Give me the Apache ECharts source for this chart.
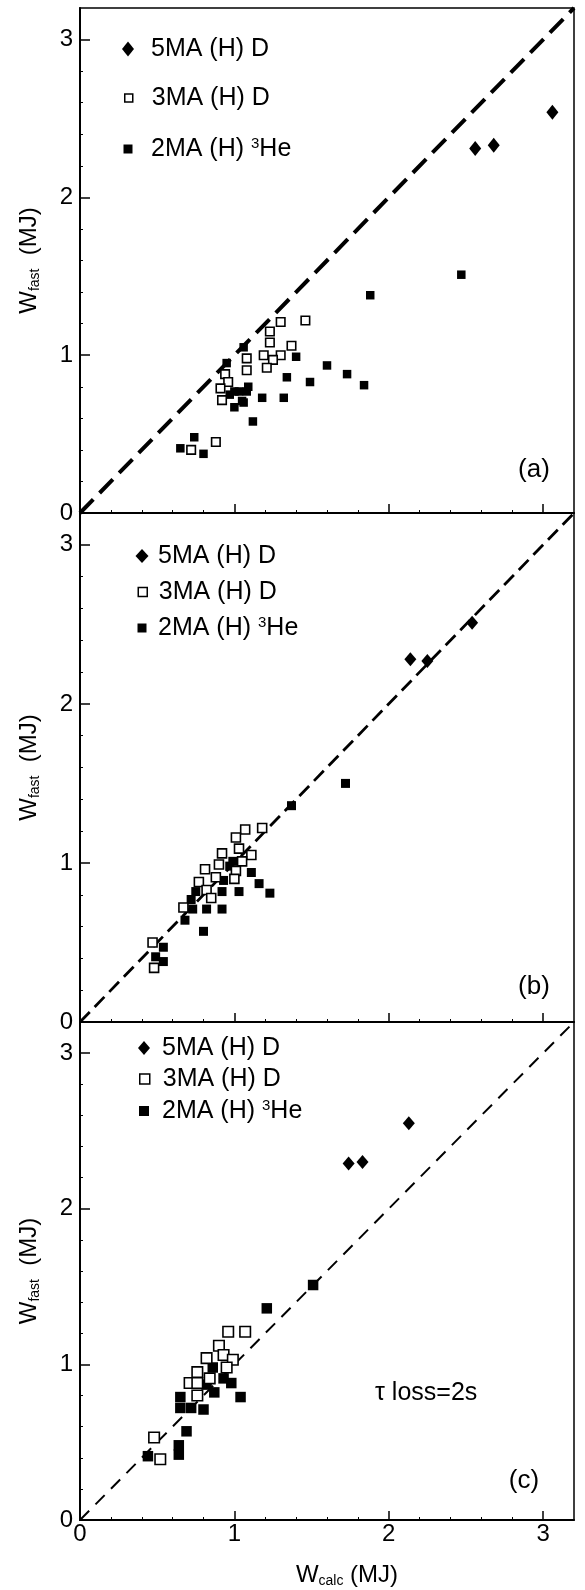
<!DOCTYPE html>
<html>
<head>
<meta charset="utf-8">
<script src="https://cdn.jsdelivr.net/npm/echarts@6/dist/echarts.min.js"></script>
<style>
  html, body { margin: 0; padding: 0; background: #fff; }
  #chart { width: 585px; height: 1590px; }
</style>
</head>
<body>
<div id="chart"></div>
<script>
// Fast-ion stored energy: measured vs calculated, three model variants
const seriesNames = ['5MA (H) D', '3MA (H) D', '2MA (H) ³He'];
const panelTags = ['(a)', '(b)', '(c)'];
const axisTicks = [0, 1, 2, 3];
const axisRange = [0, 3.2];
const lossNote = 'τ loss=2s';

// panel (a)
const a5MA = [[2.56, 2.31], [2.68, 2.33], [3.06, 2.54]];
const a3MA = [[1.30, 1.21], [1.46, 1.22], [1.23, 1.15], [1.23, 1.08], [1.37, 1.06], [1.19, 1.00],
  [1.30, 1.00], [1.25, 0.97], [1.21, 0.92], [1.08, 0.98], [1.08, 0.905], [0.94, 0.88],
  [0.96, 0.83], [0.91, 0.79], [0.92, 0.715], [0.88, 0.45], [0.72, 0.40]];
const a2MA = [[1.88, 1.38], [2.47, 1.51], [1.06, 1.05], [0.95, 0.95], [1.40, 0.99], [1.60, 0.935],
  [1.73, 0.88], [1.84, 0.81], [1.49, 0.83], [1.34, 0.86], [1.18, 0.73], [1.32, 0.73],
  [1.09, 0.80], [1.08, 0.77], [1.00, 0.77], [1.03, 0.77], [1.05, 0.71], [1.00, 0.67],
  [0.97, 0.75], [1.06, 0.70], [1.12, 0.58], [0.74, 0.48], [0.65, 0.41], [0.80, 0.375]];

// panel (b)
const b5MA = [[2.14, 2.28], [2.25, 2.27], [2.54, 2.51]];
const b3MA = [[1.18, 1.22], [1.07, 1.21], [1.01, 1.16], [0.92, 1.06], [1.03, 1.09], [1.11, 1.05],
  [1.05, 1.01], [0.90, 0.99], [0.81, 0.96], [1.01, 0.95], [1.00, 0.90], [0.77, 0.88],
  [0.88, 0.91], [0.82, 0.83], [0.85, 0.78], [0.67, 0.72], [0.47, 0.50], [0.48, 0.34]];
const b2MA = [[1.72, 1.50], [1.37, 1.36], [1.11, 0.94], [1.16, 0.87], [1.23, 0.81], [1.03, 0.82],
  [0.99, 1.01], [0.93, 0.89], [0.92, 0.82], [0.92, 0.71], [0.82, 0.71], [0.75, 0.82],
  [0.72, 0.77], [0.68, 0.64], [0.73, 0.71], [0.80, 0.57], [0.54, 0.47], [0.49, 0.41],
  [0.54, 0.38], [0.97, 0.98]];

// panel (c)
const c5MA = [[1.74, 2.29], [1.83, 2.30], [2.13, 2.55]];
const c3MA = [[0.96, 1.21], [1.07, 1.21], [0.90, 1.12], [0.82, 1.04], [0.93, 1.06], [0.99, 1.03],
  [0.95, 0.98], [0.76, 0.95], [0.71, 0.88], [0.76, 0.88], [0.84, 0.91], [0.76, 0.80],
  [0.48, 0.53], [0.52, 0.39]];
const c2MA = [[1.51, 1.51], [1.21, 1.36], [0.86, 0.98], [0.93, 0.91], [0.98, 0.88], [1.04, 0.79],
  [0.87, 0.82], [0.82, 0.87], [0.65, 0.79], [0.65, 0.72], [0.72, 0.72], [0.80, 0.71],
  [0.69, 0.57], [0.64, 0.48], [0.64, 0.42], [0.44, 0.41]];

const panelData = [[a5MA, a3MA, a2MA], [b5MA, b3MA, b2MA], [c5MA, c3MA, c2MA]];

const FONT = '"Liberation Sans", Arial, Helvetica, sans-serif';

// layout of the three stacked frames
const grids = [
  { left: 80, width: 494, top: 8, height: 505 },
  { left: 80, width: 494, top: 513, height: 509 },
  { left: 80, width: 494, top: 1022, height: 498 }
];
const diagStyle = [
  { width: 4, type: [19, 9] },
  { width: 2.8, type: [14, 7] },
  { width: 2, type: [13, 9] }
];
const squareSize = [8.5, 9, 10.5];
const diamondSize = [[12, 15], [12, 14], [12, 14]];
const legendLayout = [
  { rows: [49, 98, 149], cx: 128, textX: 151, sizes: [[12, 15], [8, 8], [9, 9]] },
  { rows: [556, 592, 628], cx: 142, textX: 158, sizes: [[13, 14], [9, 9], [9, 9]] },
  { rows: [1048, 1079, 1111], cx: 144, textX: 162, sizes: [[12, 14], [10, 10], [10, 10]] }
];
const tagPos = [[534, 470], [534, 987], [524, 1481]];

function axisCommon(showLabel) {
  return {
    type: 'value', min: axisRange[0], max: axisRange[1], interval: 1,
    axisLine: { show: true, onZero: false, lineStyle: { color: '#000', width: 2 } },
    axisTick: { show: true, inside: true, length: 9, customValues: axisTicks, lineStyle: { color: '#000', width: 1.5 } },
    minorTick: { show: true, splitNumber: 5, length: 3, lineStyle: { color: '#000', width: 1 } },
    splitLine: { show: false },
    axisLabel: { show: showLabel, customValues: axisTicks, color: '#000', fontFamily: FONT, fontSize: 24 }
  };
}

const xAxes = grids.map((g, i) => {
  const ax = axisCommon(i === 2);
  ax.gridIndex = i;
  ax.axisLabel.margin = 2;
  if (i === 2) {
    ax.name = '{w|W}{s|calc}{w| (MJ)}';
    ax.nameLocation = 'middle';
    ax.nameGap = 42;
    ax.nameTextStyle = {
      color: '#000', fontFamily: FONT, fontSize: 24, padding: [0, 0, 0, 40],
      rich: {
        w: { fontFamily: FONT, fontSize: 24, color: '#000' },
        s: { fontFamily: FONT, fontSize: 14, color: '#000', padding: [12, 0, 0, 0] }
      }
    };
  }
  return ax;
});

const yAxes = grids.map((g, i) => {
  const ax = axisCommon(true);
  ax.gridIndex = i;
  ax.axisTick.length = 10;
  ax.axisLabel.margin = 7;
  ax.name = '{w|W}{s|fast}{w|  (MJ)}';
  ax.nameLocation = 'middle';
  ax.nameRotate = 90;
  ax.nameGap = 38;
  ax.nameTextStyle = {
    color: '#000', fontFamily: FONT, fontSize: 24,
    rich: {
      w: { fontFamily: FONT, fontSize: 24, color: '#000' },
      s: { fontFamily: FONT, fontSize: 14, color: '#000', padding: [12, 0, 0, 0] }
    }
  };
  return ax;
});

const series = [];
grids.forEach((g, i) => {
  const [d5, d3, d2] = panelData[i];
  series.push({
    name: 'W = W line ' + i, type: 'line', xAxisIndex: i, yAxisIndex: i,
    data: [[axisRange[0], axisRange[0]], [axisRange[1], axisRange[1]]],
    symbol: 'none', silent: true, z: 1,
    lineStyle: { color: '#000', width: diagStyle[i].width, type: diagStyle[i].type }
  });
  series.push({
    name: seriesNames[2], type: 'scatter', xAxisIndex: i, yAxisIndex: i, data: d2,
    symbol: 'rect', symbolSize: squareSize[i], z: 2,
    itemStyle: { color: '#000', opacity: 1 }
  });
  series.push({
    name: seriesNames[1], type: 'scatter', xAxisIndex: i, yAxisIndex: i, data: d3,
    symbol: 'rect', symbolSize: squareSize[i], z: 3,
    itemStyle: { color: '#fff', borderColor: '#000', borderWidth: 1.6, opacity: 1 }
  });
  series.push({
    name: seriesNames[0], type: 'scatter', xAxisIndex: i, yAxisIndex: i, data: d5,
    symbol: 'diamond', symbolSize: diamondSize[i], z: 4,
    itemStyle: { color: '#000', opacity: 1 }
  });
});

// one legend entry per component so each marker keeps its own size
const legendStyles = [
  { color: '#000', borderWidth: 0 },
  { color: '#fff', borderColor: '#000', borderWidth: 1.5 },
  { color: '#000', borderWidth: 0 }
];
function richLabel(name) {
  return '{t|' + name.replace('³', '}{u|3}{t|') + '}';
}
const legends = [];
legendLayout.forEach((L) => {
  seriesNames.forEach((name, k) => {
    const [w, h] = L.sizes[k];
    const left = L.cx - w / 2;
    const gap = Math.max(0, L.textX - (left + w + 5));
    legends.push({
      orient: 'vertical', left: left, top: L.rows[k] - 13, padding: 0,
      itemWidth: w, itemHeight: h, symbolKeepAspect: false,
      selectedMode: false, data: [name],
      itemStyle: legendStyles[k],
      formatter: (n) => '{g| }' + richLabel(n),
      textStyle: {
        color: '#000', fontFamily: FONT, fontSize: 25, lineHeight: 26,
        rich: {
          g: { width: gap, fontSize: 10 },
          t: { fontFamily: FONT, fontSize: 25, color: '#000' },
          u: { fontFamily: FONT, fontSize: 15, color: '#000', padding: [0, 0, 10, 0] }
        }
      }
    });
  });
});

const graphics = panelTags.map((tag, i) => ({
  type: 'text', x: tagPos[i][0], y: tagPos[i][1], silent: true,
  style: {
    text: tag, fontFamily: FONT, fontSize: 26, fill: '#000',
    align: 'center', verticalAlign: 'middle', textAlign: 'center', textVerticalAlign: 'middle'
  }
}));
graphics.push({
  type: 'text', x: 375, y: 1393, silent: true,
  style: {
    text: lossNote, fontFamily: FONT, fontSize: 25, fill: '#000',
    align: 'left', verticalAlign: 'middle', textAlign: 'left', textVerticalAlign: 'middle'
  }
});

const chart = echarts.init(document.getElementById('chart'), null, { renderer: 'canvas' });
chart.setOption({
  animation: false,
  backgroundColor: '#fff',
  grid: grids.map(g => Object.assign({ show: true, borderColor: '#000', borderWidth: 1.5, backgroundColor: 'transparent' }, g)),
  xAxis: xAxes,
  yAxis: yAxes,
  legend: legends,
  series: series,
  graphic: graphics
});
</script>
</body>
</html>
